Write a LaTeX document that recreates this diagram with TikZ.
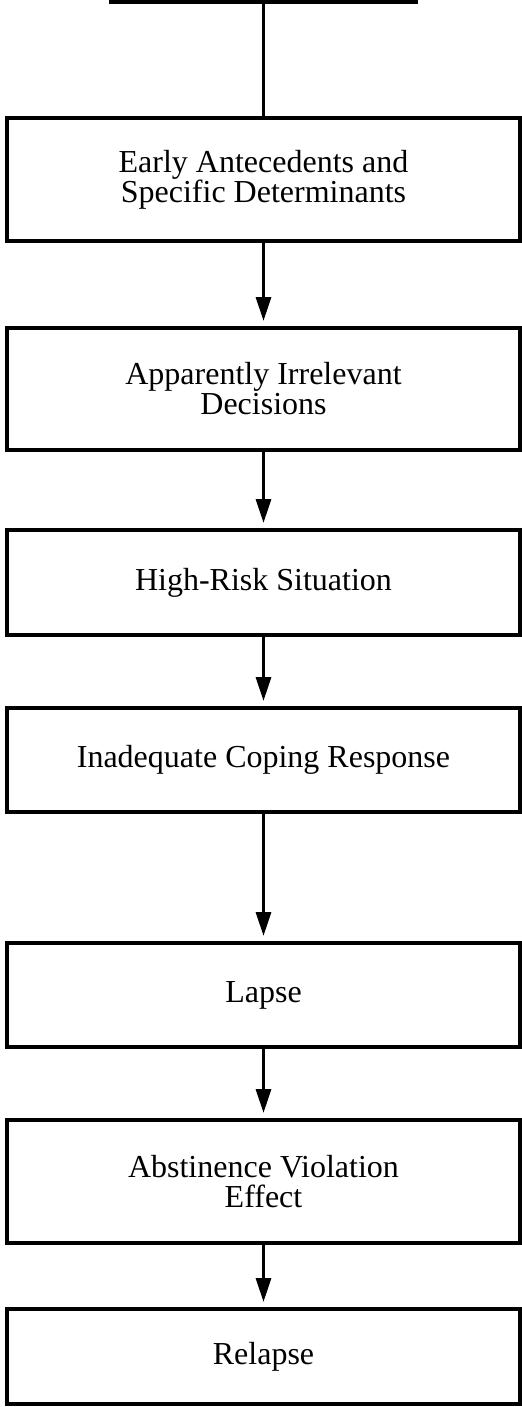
\documentclass[tikz,border=0pt]{standalone}
\usepackage{fontspec}
\setmainfont{Liberation Serif}
\usetikzlibrary{arrows.meta}

% one stage of the chain: name, height, centre, text
\newcommand{\stage}[4]{
  \node[stagebox, minimum height=#2] (#1) at (263.5,#3) {#4};
}

\begin{document}
\begin{tikzpicture}[x=0.5pt, y=-0.5pt,
    stagebox/.style={draw, line width=2pt, rectangle, align=center,
      minimum width=256.5pt, inner sep=0pt,
      font=\fontsize{16}{15}\selectfont},
    flow/.style={line width=1.5pt, -{Triangle[length=12pt,width=7.5pt]},
      shorten >=2.5pt}]

  \clip (0,0) rectangle (522,1407);

  % the box above, cut off by the page
  \node[draw, line width=2pt, minimum width=152.5pt, minimum height=42pt]
    (prev) at (263.5,-40) {};

  \stage{early}{61.5pt}{179.5}{Early Antecedents and\\Specific Determinants}
  \stage{aid}{61pt}{389}{Apparently Irrelevant\\Decisions}
  \stage{hrs}{52.5pt}{582.5}{High-Risk Situation}
  \stage{coping}{52pt}{760}{Inadequate Coping Response}
  \stage{lapse}{52pt}{995}{Lapse}
  \stage{ave}{61.5pt}{1181.5}{Abstinence Violation\\Effect}
  \stage{relapse}{47.5pt}{1356.5}{Relapse}

  \draw[line width=1.5pt] (prev.south) -- (early.north);
  \draw[flow] (early.south) -- (aid.north);
  \draw[flow] (aid.south) -- (hrs.north);
  \draw[flow] (hrs.south) -- (coping.north);
  \draw[flow] (coping.south) -- (lapse.north);
  \draw[flow] (lapse.south) -- (ave.north);
  \draw[flow] (ave.south) -- (relapse.north);

\end{tikzpicture}
\end{document}
